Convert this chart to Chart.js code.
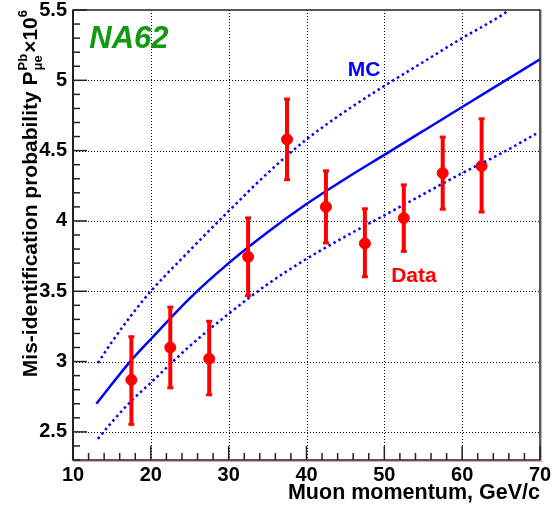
<!DOCTYPE html>
<html>
<head>
<meta charset="utf-8">
<script src="https://cdn.jsdelivr.net/npm/chart.js@4"></script>
<style>
  body { margin: 0; background: #fff; }
  canvas { display: block; }
</style>
</head>
<body>
<canvas id="chart" width="560" height="506"></canvas>
<script>
// Data points (muon momentum bins) with asymmetric errors
const momentum = [17.5, 22.5, 27.5, 32.5, 37.5, 42.5, 47.5, 52.5, 57.5, 62.5];
const probability = [2.87, 3.10, 3.02, 3.745, 4.58, 4.10, 3.84, 4.02, 4.34, 4.39];
const errPlus = [0.31, 0.29, 0.27, 0.28, 0.29, 0.26, 0.25, 0.24, 0.26, 0.34];
const errMinus = [0.32, 0.29, 0.26, 0.28, 0.29, 0.26, 0.24, 0.24, 0.26, 0.33];

// MC curve and its band
const mcMomentum = [13, 15, 17.5, 20, 25, 30, 35, 40, 45, 50, 55, 60, 65, 70];
const mcCentral = [2.70, 2.84, 3.01, 3.16, 3.45, 3.70, 3.92, 4.12, 4.30, 4.47, 4.64, 4.81, 4.98, 5.15];
const mcUpperMomentum = [13.2, 15, 17.5, 20, 25, 30, 35, 40, 45, 50, 55, 60, 65, 65.8];
const mcUpper = [2.99, 3.14, 3.33, 3.50, 3.79, 4.07, 4.34, 4.58, 4.78, 4.96, 5.13, 5.30, 5.46, 5.49];
const mcLowerMomentum = [13.2, 15, 17.5, 20, 25, 30, 35, 40, 45, 50, 55, 60, 65, 69.5];
const mcLower = [2.45, 2.57, 2.72, 2.85, 3.11, 3.34, 3.55, 3.73, 3.89, 4.04, 4.19, 4.34, 4.48, 4.62];

// Axis ticks
const xTicks = [10, 20, 30, 40, 50, 60, 70];
const yTicks = [2.5, 3, 3.5, 4, 4.5, 5, 5.5];
const xMinorStep = 2;
const yMinorStep = 0.1;

const FONT = '"Liberation Sans", Arial, Helvetica, sans-serif';
const RED = '#ff0000';
const BLUE = '#0000ff';

function xy(xs, ys) {
    return xs.map((x, i) => ({ x: x, y: ys[i] }));
}

// Grid, inner ticks and frame in ROOT style
const frameAndTicks = {
    id: 'frameAndTicks',
    beforeDatasetsDraw(chart) {
        const { ctx, chartArea: a, scales: { x, y } } = chart;
        ctx.save();
        // dotted grid
        ctx.strokeStyle = '#000';
        ctx.lineWidth = 1;
        ctx.setLineDash([1, 2]);
        xTicks.forEach(v => {
            if (v <= x.min || v >= x.max) return;
            const px = Math.round(x.getPixelForValue(v)) + 0.5;
            ctx.beginPath(); ctx.moveTo(px, a.top); ctx.lineTo(px, a.bottom); ctx.stroke();
        });
        yTicks.forEach(v => {
            if (v <= y.min || v >= y.max) return;
            const py = Math.round(y.getPixelForValue(v)) + 0.5;
            ctx.beginPath(); ctx.moveTo(a.left, py); ctx.lineTo(a.right, py); ctx.stroke();
        });
        ctx.setLineDash([]);
        ctx.restore();
    },
    afterDatasetsDraw(chart) {
        const { ctx, chartArea: a, scales: { x, y } } = chart;
        ctx.save();
        ctx.strokeStyle = '#222';
        ctx.lineWidth = 1.5;
        // x ticks (inside, from the bottom)
        for (let v = x.min; v <= x.max + 1e-9; v += xMinorStep) {
            const major = xTicks.some(t => Math.abs(t - v) < 1e-6);
            const px = x.getPixelForValue(v);
            ctx.beginPath(); ctx.moveTo(px, a.bottom); ctx.lineTo(px, a.bottom - (major ? 14 : 7)); ctx.stroke();
        }
        // y ticks (inside, from the left)
        for (let v = y.min; v <= y.max + 1e-9; v += yMinorStep) {
            const major = yTicks.some(t => Math.abs(t - v) < 1e-6);
            const py = y.getPixelForValue(v);
            ctx.beginPath(); ctx.moveTo(a.left, py); ctx.lineTo(a.left + (major ? 14 : 7), py); ctx.stroke();
        }
        // frame
        ctx.strokeStyle = '#f4a0a0';
        ctx.lineWidth = 1;
        ctx.beginPath();
        ctx.moveTo(a.right + 1.5, a.top); ctx.lineTo(a.right + 1.5, a.bottom + 1.5); ctx.lineTo(a.left, a.bottom + 1.5);
        ctx.stroke();
        ctx.strokeStyle = '#222';
        ctx.lineWidth = 1.5;
        ctx.strokeRect(a.left, a.top, a.right - a.left, a.bottom - a.top);
        ctx.lineWidth = 2;
        ctx.beginPath(); ctx.moveTo(a.left, a.top); ctx.lineTo(a.left, a.bottom); ctx.stroke();

        // error bars
        ctx.strokeStyle = RED;
        ctx.fillStyle = RED;
        ctx.lineWidth = 4;
        momentum.forEach((m, i) => {
            const px = x.getPixelForValue(m);
            const top = y.getPixelForValue(probability[i] + errPlus[i]);
            const bot = y.getPixelForValue(probability[i] - errMinus[i]);
            ctx.beginPath(); ctx.moveTo(px, top); ctx.lineTo(px, bot); ctx.stroke();
            ctx.fillRect(px - 3, top - 1, 6, 3);
            ctx.fillRect(px - 3, bot - 2, 6, 3);
        });

        // annotations
        ctx.textBaseline = 'middle';
        ctx.font = 'italic bold 31px ' + FONT;
        ctx.fillStyle = '#119a11';
        ctx.textAlign = 'left';
        ctx.fillText('NA62', x.getPixelForValue(12.1), y.getPixelForValue(5.29));
        ctx.textAlign = 'center';
        ctx.font = 'bold 21px ' + FONT;
        ctx.fillStyle = BLUE;
        ctx.fillText('MC', x.getPixelForValue(47.4), y.getPixelForValue(5.07));
        ctx.fillStyle = RED;
        ctx.fillText('Data', x.getPixelForValue(53.8), y.getPixelForValue(3.61));
        ctx.restore();
    },
    afterDraw(chart) {
        // y axis title with super/subscripts, rotated
        const { ctx, chartArea: a } = chart;
        const big = 'bold 21px ' + FONT;
        const small = 'bold 13px ' + FONT;
        ctx.save();
        ctx.fillStyle = '#000';
        ctx.textBaseline = 'alphabetic';
        ctx.textAlign = 'left';
        ctx.font = big;
        const main = 'Mis-identification probability P';
        const wMain = ctx.measureText(main).width;
        const wTimes = ctx.measureText('\u00d710').width;
        ctx.font = small;
        const wPb = Math.max(ctx.measureText('Pb').width, ctx.measureText('\u03bce').width);
        const wSix = ctx.measureText('6').width;
        const total = wMain + 1 + wPb + 1 + wTimes + wSix;
        ctx.translate(37, a.top);
        ctx.rotate(-Math.PI / 2);
        let u = -total;
        ctx.font = big;
        ctx.fillText(main, u, 0);
        u += wMain + 1;
        ctx.font = small;
        ctx.fillText('Pb', u, -10);
        ctx.fillText('\u03bce', u, 5);
        u += wPb + 1;
        ctx.font = big;
        ctx.fillText('\u00d710', u, 0);
        u += wTimes;
        ctx.font = small;
        ctx.fillText('6', u, -10);
        ctx.restore();
    }
};

new Chart(document.getElementById('chart'), {
    type: 'scatter',
    data: {
        datasets: [
            {
                label: 'MC',
                data: xy(mcMomentum, mcCentral),
                showLine: true,
                borderColor: BLUE,
                borderWidth: 2.5,
                pointRadius: 0,
                cubicInterpolationMode: 'monotone'
            },
            {
                label: 'MC upper',
                data: xy(mcUpperMomentum, mcUpper),
                showLine: true,
                borderColor: BLUE,
                borderWidth: 2.5,
                borderDash: [2.5, 3.2],
                pointRadius: 0,
                cubicInterpolationMode: 'monotone'
            },
            {
                label: 'MC lower',
                data: xy(mcLowerMomentum, mcLower),
                showLine: true,
                borderColor: BLUE,
                borderWidth: 2.5,
                borderDash: [2.5, 3.2],
                pointRadius: 0,
                cubicInterpolationMode: 'monotone'
            },
            {
                label: 'Data',
                data: xy(momentum, probability),
                backgroundColor: RED,
                borderColor: RED,
                pointRadius: 5.5,
                pointHoverRadius: 5.5
            }
        ]
    },
    options: {
        responsive: false,
        animation: false,
        devicePixelRatio: 1,
        layout: { padding: { top: 10, right: 20, left: 0, bottom: 0 } },
        plugins: {
            legend: { display: false },
            tooltip: { enabled: false }
        },
        scales: {
            x: {
                type: 'linear',
                min: 10,
                max: 70,
                afterBuildTicks: s => { s.ticks = xTicks.map(v => ({ value: v })); },
                afterFit: s => { s.height = 46; s.paddingLeft = 0; s.paddingRight = 0; },
                grid: { display: false, drawTicks: false },
                border: { display: false },
                ticks: {
                    color: '#000',
                    padding: 3,
                    maxRotation: 0,
                    font: { family: FONT, weight: 'bold', size: 20 },
                    callback: v => String(v)
                },
                title: {
                    display: true,
                    text: 'Muon momentum, GeV/c',
                    align: 'end',
                    color: '#000',
                    padding: { top: 0, bottom: 0 },
                    font: { family: FONT, weight: 'bold', size: 21.5 }
                }
            },
            y: {
                type: 'linear',
                min: 2.3,
                max: 5.5,
                afterBuildTicks: s => { s.ticks = yTicks.map(v => ({ value: v })); },
                afterFit: s => { s.width = 73; s.paddingTop = 0; s.paddingBottom = 0; },
                grid: { display: false, drawTicks: false },
                border: { display: false },
                ticks: {
                    color: '#000',
                    padding: 6,
                    font: { family: FONT, weight: 'bold', size: 20 },
                    callback: v => String(v)
                }
            }
        }
    },
    plugins: [frameAndTicks]
});
</script>
</body>
</html>
